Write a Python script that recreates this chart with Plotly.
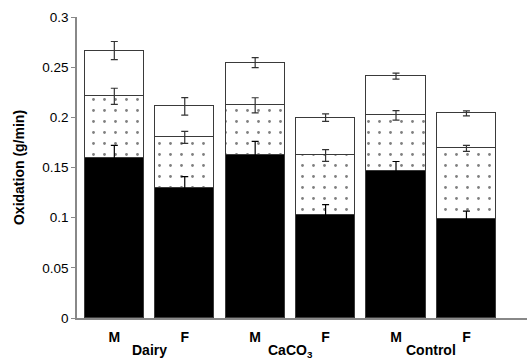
import plotly.graph_objects as go

groups = ["Dairy", "CaCO<sub>3</sub>", "Control"]
sexes = ["M", "F", "M", "F", "M", "F"]
# cumulative levels
black_top = [0.159, 0.130, 0.162, 0.103, 0.1465, 0.099]
dotted_top = [0.221, 0.180, 0.212, 0.162, 0.202, 0.169]
white_top = [0.2666, 0.211, 0.2545, 0.1997, 0.241, 0.204]
black_err = [0.013, 0.011, 0.014, 0.010, 0.0095, 0.0076]
dotted_err = [0.008, 0.006, 0.0075, 0.0058, 0.0047, 0.003]
white_err = [0.009, 0.0087, 0.005, 0.0038, 0.003, 0.0025]

xpos = list(range(len(sexes)))
seg_black = black_top
seg_dot = [d - b for d, b in zip(dotted_top, black_top)]
seg_white = [w - d for w, d in zip(white_top, dotted_top)]

line = dict(color="#3a3a3a", width=1)

fig = go.Figure()
fig.add_trace(go.Bar(x=xpos, y=seg_black, width=0.84,
                     marker=dict(color="black", line=line)))
fig.add_trace(go.Bar(x=xpos, y=seg_dot, width=0.84,
                     marker=dict(color="white", line=line,
                                 pattern=dict(shape=".", fgcolor="black", bgcolor="white",
                                              size=11, solidity=0.05, fillmode="overlay"))))
fig.add_trace(go.Bar(x=xpos, y=seg_white, width=0.84,
                     marker=dict(color="white", line=line)))

for tops, errs, col in [(black_top, black_err, "black"),
                        (dotted_top, dotted_err, "#333333"),
                        (white_top, white_err, "#333333")]:
    fig.add_trace(go.Scatter(x=xpos, y=tops, mode="markers",
                             marker=dict(size=1, opacity=0),
                             error_y=dict(type="data", array=errs, color=col,
                                          thickness=1.2, width=3.5),
                             hoverinfo="skip"))

for i, g in enumerate(groups):
    fig.add_annotation(x=2 * i + 0.5, y=0, xref="x", yref="paper", yanchor="top",
                       yshift=-22, text=f"<b>{g}</b>", showarrow=False,
                       font=dict(size=14, color="black", family="Liberation Sans, Arial"))

fig.update_layout(
    barmode="stack", showlegend=False, bargap=0,
    width=527, height=360,
    margin=dict(l=77, r=0, t=17, b=42),
    plot_bgcolor="white", paper_bgcolor="white",
    font=dict(family="Liberation Sans, Arial", color="black", size=13),
    xaxis=dict(range=[-0.53, 5.86], tickmode="array", tickvals=xpos,
               ticktext=[f"<b>{s}</b>" for s in sexes], showline=True,
               linecolor="#888888", linewidth=1.5, ticks="outside", ticklen=5,
               tickcolor="rgba(0,0,0,0)", showgrid=False,
               zeroline=False, tickfont=dict(size=14)),
    yaxis=dict(range=[0, 0.3], tickvals=[0, 0.05, 0.1, 0.15, 0.2, 0.25, 0.3],
               ticktext=["0", "0.05", "0.1", "0.15", "0.2", "0.25", "0.3"],
               showline=True, linecolor="#888888", linewidth=1.5, ticks="outside",
               ticklen=4, tickcolor="#888888", showgrid=False, zeroline=False,
               title=dict(text="<b>Oxidation (g/min)</b>", standoff=14,
                          font=dict(size=14)),
               tickfont=dict(size=13.5)),
)
fig.write_html("out.html")
